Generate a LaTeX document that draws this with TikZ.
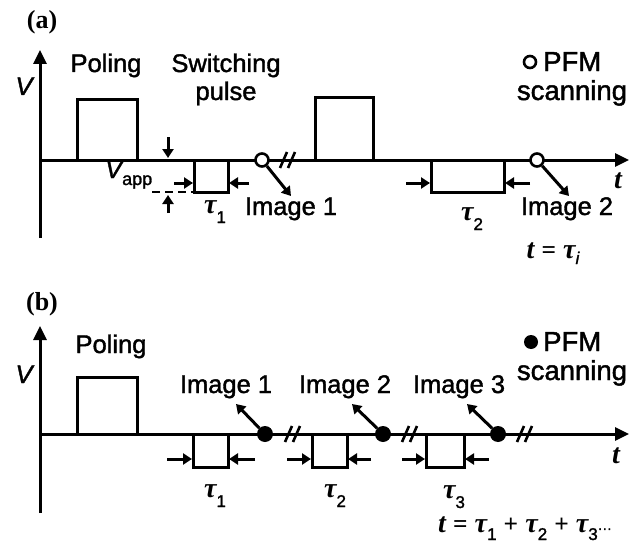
\documentclass[tikz,border=0pt]{standalone}
\usepackage{fontspec}
\setmainfont{Liberation Sans}[FakeBold=1.5]
\newfontfamily\tms{Liberation Serif}
\usetikzlibrary{arrows.meta}

% lowered subscript in the sans face
\newcommand\lowsub[2][17]{\raisebox{-10pt}{\fontsize{#1}{#1}\selectfont #2}}
\newcommand\ttau{{\fontsize{28}{30}\tms\bfseries\itshape τ}}
\newcommand\tvar{{\fontsize{28}{30}\tms\bfseries\itshape t}}
% two slanted strokes marking a break of the time axis
\newcommand\axisbreak[2]{%
  \draw[brk] (#1-8,#2+8) -- (#1-1,#2-8);
  \draw[brk] (#1,#2+8) -- (#1+7,#2-8);}

\begin{document}
\begin{tikzpicture}[x=1pt,y=-1pt,
  every node/.style={font=\fontsize{25.5}{28}\selectfont, inner sep=0pt},
  big/.style={font=\fontsize{27.5}{30}\selectfont},
  sig/.style={line width=3pt, line join=miter},
  axis/.style={line width=3pt, -{Triangle[length=14pt,width=13pt]}},
  sarr/.style={line width=3pt, -{Triangle[length=9pt,width=11pt]}},
  brk/.style={line width=2.6pt},
  opendot/.style={circle, draw, line width=2.6pt, fill=white, minimum size=13pt},
  fulldot/.style={circle, fill=black, minimum size=16pt},
]
\useasboundingbox (0,0) rectangle (643,543);

%%%%%%%%%%%%%%%% panel (a) %%%%%%%%%%%%%%%%
\node[anchor=base] (la) at (42,29) {\fontsize{26}{28}\tms\bfseries (a)};
\draw[axis] (40,238) -- (40,50);
\draw[axis] (40,160) -- (629,160);
\node[anchor=base] (va) at (24,95) {\itshape V};
\node[anchor=base] (ta) at (618,188) {\tvar};

% poling pulses
\draw[sig] (77,160) -- (77,100) -- (137,100) -- (137,160);
\draw[sig] (315,160) -- (315,98) -- (373,98) -- (373,160);
% switching pulses
\draw[sig] (194,160) -- (194,192) -- (228,192) -- (228,160);
\draw[sig] (431,160) -- (431,192) -- (504,192) -- (504,160);

% pulse amplitude
\draw[sarr] (168,137) -- (168,158);
\draw[sarr] (168,213) -- (168,195);
\draw[line width=2pt, dash pattern=on 8pt off 5pt] (152,192) -- (194,192);
\node[anchor=base west] (vapp) at (105,178) {\itshape V\upshape\raisebox{-7pt}{\fontsize{18}{18}\selectfont app}};

% pulse widths
\draw[sarr] (174,183) -- (193,183);
\draw[sarr] (249,183) -- (229,183);
\draw[sarr] (406,183) -- (430,183);
\draw[sarr] (530,183) -- (505,183);
\node[anchor=base] (tau1a) at (215,213) {\ttau\lowsub{1}};
\node[anchor=base] (tau2a) at (472,220) {\ttau\lowsub{2}};

% break
\axisbreak{288}{160}

% scans
\node[opendot] (s1a) at (262,160) {};
\node[opendot] (s2a) at (537,160) {};
\coordinate (i1a) at (291,196);
\coordinate (i2a) at (569,196);
\draw[sarr] (s1a) -- (i1a);
\draw[sarr] (s2a) -- (i2a);
\node[anchor=base] (img1a) at (291,215) {Image 1};
\node[anchor=base] (img2a) at (567,215) {Image 2};
\node[anchor=base] (tia) at (553,258) {\tvar\ {\tms\bfseries =} \ttau\raisebox{-6pt}{\fontsize{17}{17}\selectfont\itshape i}};

% labels
\node[anchor=base] (pola) at (106,72) {Poling};
\node[anchor=base] (swa) at (226,72) {Switching};
\node[anchor=base] (pua) at (226,100) {pulse};
\node[opendot, minimum size=12pt] (keya) at (530,62) {};
\node[big, anchor=base west] (pfma) at (543,71) {PFM};
\node[big, anchor=base] (scana) at (572,100) {scanning};

%%%%%%%%%%%%%%%% panel (b) %%%%%%%%%%%%%%%%
\node[anchor=base] (lb) at (42,310) {\fontsize{26}{28}\tms\bfseries (b)};
\draw[axis] (40,513) -- (40,326);
\draw[axis] (40,434) -- (629,434);
\node[anchor=base] (vb) at (24,383) {\itshape V};
\node[anchor=base] (tb) at (616,463) {\tvar};

\draw[sig] (77,434) -- (77,377) -- (137,377) -- (137,434);
\draw[sig] (193,434) -- (193,467) -- (228,467) -- (228,434);
\draw[sig] (312,434) -- (312,467) -- (347,467) -- (347,434);
\draw[sig] (426,434) -- (426,467) -- (464,467) -- (464,434);

\draw[sarr] (167,459) -- (192,459);
\draw[sarr] (255,459) -- (229,459);
\draw[sarr] (287,459) -- (311,459);
\draw[sarr] (371,459) -- (348,459);
\draw[sarr] (402,459) -- (425,459);
\draw[sarr] (489,459) -- (465,459);
\node[anchor=base] (tau1b) at (215,497) {\ttau\lowsub{1}};
\node[anchor=base] (tau2b) at (335,497) {\ttau\lowsub{2}};
\node[anchor=base] (tau3b) at (454,498) {\ttau\lowsub[17]{3}};

\axisbreak{293}{434}
\axisbreak{410}{434}
\axisbreak{525}{434}

\node[fulldot] (s1b) at (265,434) {};
\node[fulldot] (s2b) at (383,434) {};
\node[fulldot] (s3b) at (498,434) {};
\coordinate (i1b) at (236,404);
\coordinate (i2b) at (352,404);
\coordinate (i3b) at (467,404);
\draw[sarr] (s1b) -- (i1b);
\draw[sarr] (s2b) -- (i2b);
\draw[sarr] (s3b) -- (i3b);
\node[anchor=base] (img1b) at (226,393) {Image 1};
\node[anchor=base] (img2b) at (345,393) {Image 2};
\node[anchor=base] (img3b) at (459,393) {Image 3};

\node[anchor=base] (polb) at (111,353) {Poling};
\node[fulldot, minimum size=14pt] (keyb) at (531,342) {};
\node[big, anchor=base west] (pfmb) at (543,351) {PFM};
\node[big, anchor=base] (scanb) at (572,380) {scanning};
\node[anchor=base] (sumb) at (525,532) {\tvar\ {\tms\bfseries =} \ttau\raisebox{-8pt}{\fontsize{17}{17}\selectfont 1} {\tms\bfseries +} \ttau\raisebox{-8pt}{\fontsize{17}{17}\selectfont 2} {\tms\bfseries +} \ttau\raisebox{-8pt}{\fontsize{17}{17}\selectfont 3}\raisebox{-1pt}{\fontsize{14}{14}\selectfont ···}};
\end{tikzpicture}
\end{document}
